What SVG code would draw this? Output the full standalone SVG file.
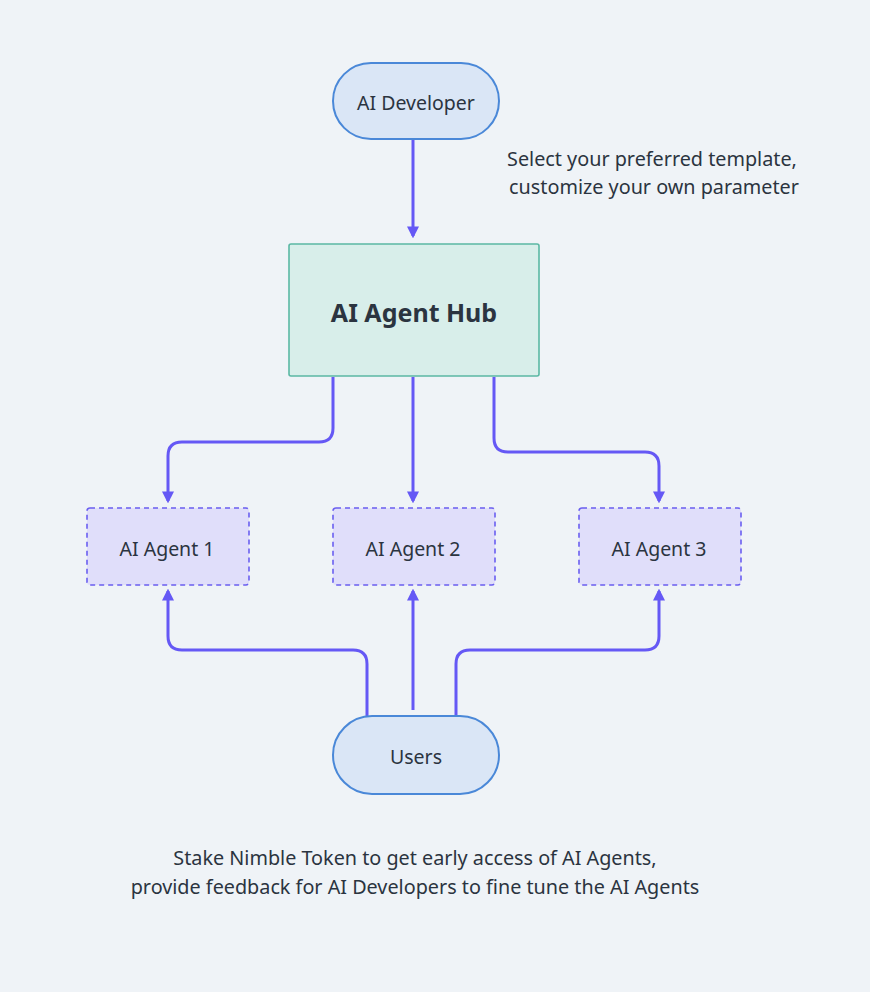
<svg xmlns="http://www.w3.org/2000/svg" width="870" height="992" viewBox="0 0 870 992">
<style>
text{font-family:"Noto Sans","DejaVu Sans",sans-serif;fill:#2b3440;text-anchor:middle;dominant-baseline:central}
.pill{fill:#dae6f6;stroke:#4a88d8;stroke-width:2}
.agent{fill:#e0defa;stroke:#6a5ef0;stroke-width:1.6;stroke-dasharray:5 4}
.conn{fill:none;stroke:#6558f5;stroke-width:3;stroke-linejoin:round}
.lbl{font-size:19.5px}
.note{font-size:19.8px}
</style>
<defs>
<marker id="ah" viewBox="0 0 10 10" refX="8" refY="5" markerWidth="4" markerHeight="4" orient="auto" markerUnits="strokeWidth">
<path d="M0,0 L10,5 L0,10 z" fill="#6558f5"/>
</marker>
</defs>
<rect width="870" height="992" fill="#eff3f7"/>
<g id="connectors">
<path class="conn" d="M413,140 V236" marker-end="url(#ah)"/>
<path class="conn" d="M333,377 V428 Q333,442 319,442 H182 Q168,442 168,456 V501" marker-end="url(#ah)"/>
<path class="conn" d="M413,377 V501" marker-end="url(#ah)"/>
<path class="conn" d="M494,377 V438 Q494,452 508,452 H645 Q659,452 659,466 V501" marker-end="url(#ah)"/>
<path class="conn" d="M367,716 V664 Q367,650 353,650 H182 Q168,650 168,636 V591" marker-end="url(#ah)"/>
<path class="conn" d="M413,710 V591" marker-end="url(#ah)"/>
<path class="conn" d="M456,716 V664 Q456,650 470,650 H645 Q659,650 659,636 V591" marker-end="url(#ah)"/>
</g>
<g id="ai-developer">
<rect class="pill" x="333" y="63" width="166" height="76" rx="38"/>
<text class="lbl" x="416" y="102">AI Developer</text>
</g>
<g id="hub">
<rect x="289" y="244" width="250" height="132" rx="2" fill="#d8eeea" stroke="#5bb8a4" stroke-width="1.6"/>
<text x="414" y="312" font-size="25" font-weight="bold">AI Agent Hub</text>
</g>
<g id="agent1">
<rect class="agent" x="87" y="508" width="162" height="77" rx="3"/>
<text class="lbl" x="167" y="548">AI Agent 1</text>
</g>
<g id="agent2">
<rect class="agent" x="333" y="508" width="162" height="77" rx="3"/>
<text class="lbl" x="413" y="548">AI Agent 2</text>
</g>
<g id="agent3">
<rect class="agent" x="579" y="508" width="162" height="77" rx="3"/>
<text class="lbl" x="659" y="548">AI Agent 3</text>
</g>
<g id="users">
<rect class="pill" x="333" y="716" width="166" height="78" rx="39"/>
<text class="lbl" x="416" y="756">Users</text>
</g>
<g id="note-developer">
<text class="note" x="652" y="158">Select your preferred template,</text>
<text class="note" x="654" y="186">customize your own parameter</text>
</g>
<g id="note-users">
<text class="note" x="415" y="857">Stake Nimble Token to get early access of AI Agents,</text>
<text class="note" x="415" y="886">provide feedback for AI Developers to fine tune the AI Agents</text>
</g>
</svg>
